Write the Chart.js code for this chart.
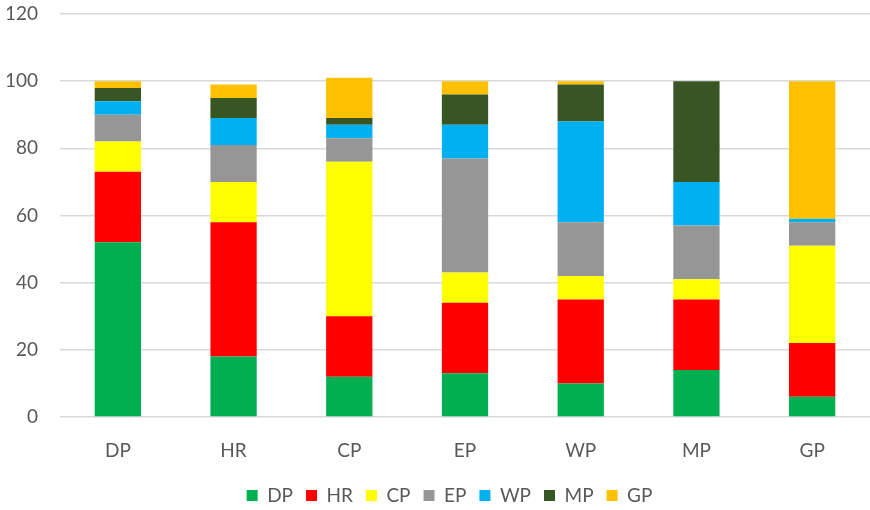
<!DOCTYPE html>
<html>
<head>
<meta charset="utf-8">
<script src="https://cdn.jsdelivr.net/npm/chart.js@4/dist/chart.umd.min.js"></script>
<style>
  html, body { margin: 0; padding: 0; background: #fff; }
  #wrap { width: 870px; height: 510px; position: relative; }
</style>
</head>
<body>
<div id="wrap"><canvas id="chart"></canvas></div>
<script>
const categories = ['DP', 'HR', 'CP', 'EP', 'WP', 'MP', 'GP'];

// one array per stacked series, in category order
const dpValues = [52, 18, 12, 13, 10, 14, 6];
const hrValues = [21, 40, 18, 21, 25, 21, 16];
const cpValues = [9, 12, 46, 9, 7, 6, 29];
const epValues = [8, 11, 7, 34, 16, 16, 7];
const wpValues = [4, 8, 4, 10, 30, 13, 1];
const mpValues = [4, 6, 2, 9, 11, 30, 0];
const gpValues = [2, 4, 12, 4, 1, 0, 41];

const yTicks = [0, 20, 40, 60, 80, 100, 120];

const textColor = '#595959';
const gridColor = '#d9d9d9';
const font = 'Lato, "Open Sans", sans-serif';

const series = [
  { label: 'DP', data: dpValues, color: '#00b050' },
  { label: 'HR', data: hrValues, color: '#ff0000' },
  { label: 'CP', data: cpValues, color: '#ffff00' },
  { label: 'EP', data: epValues, color: '#969696' },
  { label: 'WP', data: wpValues, color: '#00b0f0' },
  { label: 'MP', data: mpValues, color: '#375623' },
  { label: 'GP', data: gpValues, color: '#ffc000' },
];

// legend in the original sits a bit right of the canvas centre
const legendShift = {
  id: 'legendShift',
  afterUpdate(chart) {
    const lg = chart.legend;
    if (!lg) return;
    lg.left += 11;
    lg.right += 11;
    lg.adjustHitBoxes();
  },
};

new Chart(document.getElementById('chart'), {
  type: 'bar',
  data: {
    labels: categories,
    datasets: series.map(s => ({
      label: s.label,
      data: s.data,
      backgroundColor: s.color,
      borderWidth: 0,
      barPercentage: 0.4,
      categoryPercentage: 1,
    })),
  },
  plugins: [legendShift],
  options: {
    responsive: true,
    maintainAspectRatio: false,
    animation: false,
    layout: { padding: { left: 7, right: 0, top: 14, bottom: -5 } },
    plugins: {
      tooltip: { enabled: false },
      legend: {
        position: 'bottom',
        labels: {
          boxWidth: 11,
          boxHeight: 11,
          padding: 13,
          color: textColor,
          font: { family: font, size: 19 },
        },
      },
    },
    scales: {
      x: {
        stacked: true,
        grid: { display: false, drawTicks: false },
        border: { display: false },
        ticks: { color: textColor, padding: 22, font: { family: font, size: 19 } },
        afterFit: axis => { axis.height = 56; },
      },
      y: {
        stacked: true,
        min: 0,
        max: 120,
        afterBuildTicks: axis => { axis.ticks = yTicks.map(v => ({ value: v })); },
        grid: { color: gridColor, lineWidth: 1.5, drawTicks: false },
        border: { display: false },
        ticks: { color: textColor, padding: 22, font: { family: font, size: 19 } },
        afterFit: axis => {
          axis.width = 53;
          axis.paddingTop = 0;
          axis.paddingBottom = 0;
        },
      },
    },
  },
});
</script>
</body>
</html>
